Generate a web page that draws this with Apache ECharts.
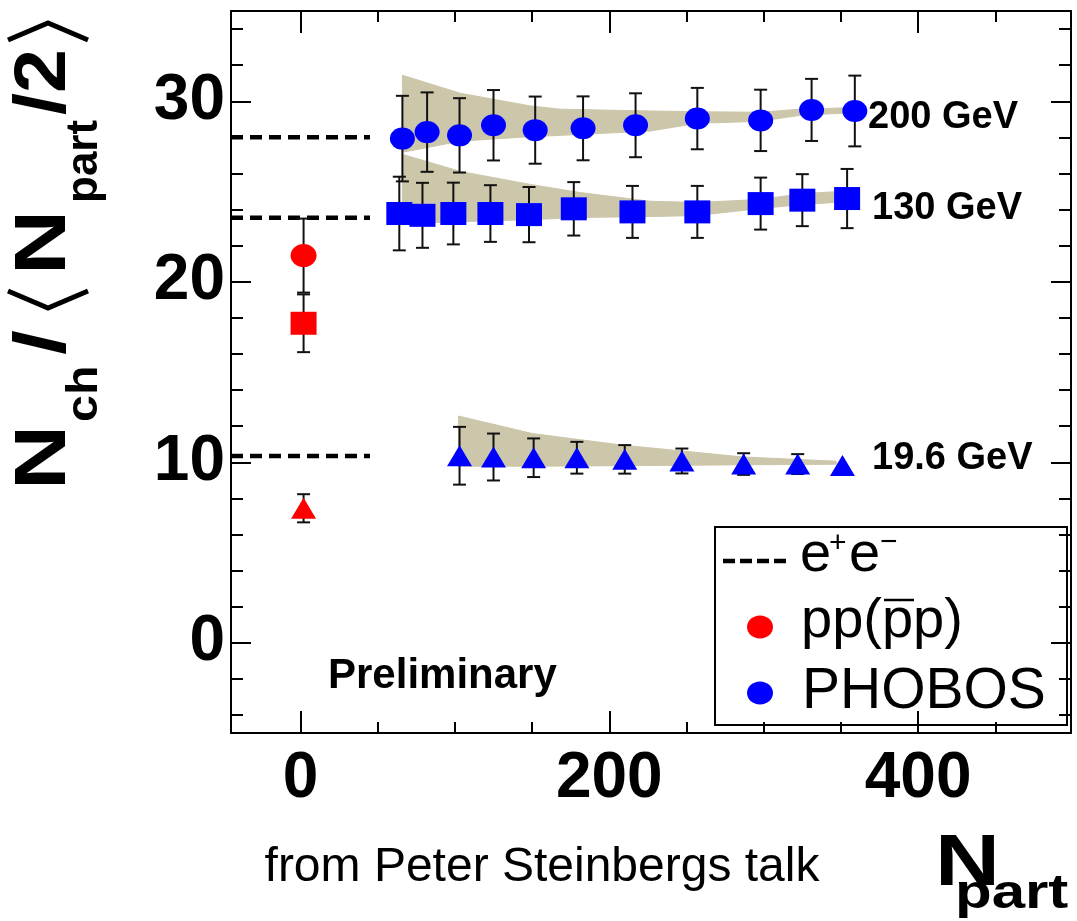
<!DOCTYPE html>
<html>
<head>
<meta charset="utf-8">
<script src="https://cdn.jsdelivr.net/npm/echarts@6/dist/echarts.min.js"></script>
<style>
  html, body { margin: 0; padding: 0; background: #fff; }
  #main { width: 1077px; height: 921px; }
</style>
</head>
<body>
<div id="main"></div>
<script>
var FONT = '"Liberation Sans", Arial, sans-serif';
var BLUE = '#0000ff';
var RED = '#ff0000';
var TAN = '#ccc6aa';

var X_MIN = -45, X_MAX = 499;
var Y_MIN = -5, Y_MAX = 35;

// tick values
var xMajor = [0, 200, 400];
var xMinor = [50, 100, 150, 250, 300, 350, 450];
var yMajor = [0, 10, 20, 30];
var yMinor = [-4, -2, 2, 4, 6, 8, 12, 14, 16, 18, 22, 24, 26, 28, 32, 34];

// PHOBOS 200 GeV (circles)
var npart200 = [66, 82, 103, 125, 152, 183, 217, 257, 298, 331, 359];
var nch200 = [27.93, 28.29, 28.11, 28.67, 28.4, 28.5, 28.67, 29.04, 28.94, 29.52, 29.46];
var err200 = [2.37, 2.2, 2.06, 1.95, 1.86, 1.77, 1.77, 1.7, 1.7, 1.72, 1.96];

// PHOBOS 130 GeV (squares)
var npart130 = [64, 79, 99, 123, 148, 177, 215, 257, 298, 325, 354];
var nch130 = [23.78, 23.68, 23.78, 23.78, 23.72, 24.04, 23.87, 23.87, 24.33, 24.52, 24.61];
var err130 = [2.04, 1.8, 1.71, 1.57, 1.53, 1.48, 1.44, 1.44, 1.44, 1.44, 1.64];

// PHOBOS 19.6 GeV (triangles)
var npart19 = [103, 125, 151, 179, 210, 247, 287, 322, 351];
var nch19 = [10.36, 10.29, 10.25, 10.25, 10.16, 10.07, 9.9, 9.9, 9.82];
var err19 = [1.6, 1.3, 1.07, 0.88, 0.79, 0.69, 0.6, 0.55, 0];

// pp (ppbar) at Npart = 2
var ppX = [2];
var ppCircle = [21.45], ppCircleErr = [2.05];
var ppSquare = [17.7], ppSquareErr = [1.6];
var ppTriangle = [7.45], ppTriangleErr = [0.78];

// systematic bands
var band200X = [66, 103.6, 148.9, 168.3, 226.5, 257, 297.7, 323.6, 359.2];
var band200Lo = [27.17, 27.79, 28.04, 28.11, 28.35, 28.78, 28.89, 29.22, 29.37];
var band200Hi = [31.44, 30.44, 29.74, 29.56, 29.46, 29.42, 29.39, 29.56, 29.65];

var band130X = [66, 103.6, 148.9, 181.2, 226.5, 257, 297.7, 325.6, 354];
var band130Lo = [23.22, 23.33, 23.44, 23.56, 23.61, 23.67, 24.06, 24.28, 24.44];
var band130Hi = [27.06, 26.11, 25.39, 24.94, 24.46, 24.39, 24.56, 24.89, 25.02];

var band19X = [102.3, 150.2, 209.1, 246.6, 286.7, 346.9];
var band19Lo = [9.78, 9.78, 9.81, 9.83, 9.86, 9.89];
var band19Hi = [12.56, 11.59, 10.94, 10.63, 10.29, 10.06];

// e+e- levels
var eeLevels = [28.0, 23.55, 10.35];
var eeX = [-45, 45];

var chart = echarts.init(document.getElementById('main'));

function xAxisDef(pos, ticks, len, line, label) {
  return {
    type: 'value', position: pos, min: X_MIN, max: X_MAX,
    axisLine: { show: line, onZero: false, lineStyle: { color: '#000', width: 2 } },
    axisTick: { show: true, inside: true, length: len, customValues: ticks, lineStyle: { color: '#000', width: 2 } },
    axisLabel: label ? {
      customValues: ticks, margin: 14, fontSize: 64, fontWeight: 'bold', fontFamily: FONT, color: '#000'
    } : { show: false },
    splitLine: { show: false }
  };
}

function yAxisDef(pos, ticks, len, line, label) {
  return {
    type: 'value', position: pos, min: Y_MIN, max: Y_MAX,
    axisLine: { show: line, onZero: false, lineStyle: { color: '#000', width: 2 } },
    axisTick: { show: true, inside: true, length: len, customValues: ticks, lineStyle: { color: '#000', width: 2 } },
    axisLabel: label ? {
      customValues: ticks, margin: 6, fontSize: 64, fontWeight: 'bold', fontFamily: FONT, color: '#000',
      padding: [0, 0, 10, 0]
    } : { show: false },
    splitLine: { show: false }
  };
}

function bandSeries(xs, lo, hi) {
  return {
    type: 'custom', z: 1, silent: true,
    encode: { x: 0, y: [1, 2] },
    data: xs.map(function (x, i) { return [x, lo[i], hi[i]]; }),
    renderItem: function (params, api) {
      if (params.dataIndex !== 0) return null;
      var pts = [];
      for (var i = 0; i < xs.length; i++) pts.push(api.coord([xs[i], hi[i]]));
      for (var j = xs.length - 1; j >= 0; j--) pts.push(api.coord([xs[j], lo[j]]));
      return { type: 'polygon', shape: { points: pts }, style: { fill: TAN, stroke: TAN, lineWidth: 1 } };
    }
  };
}

function errSeries(xs, ys, es) {
  return {
    type: 'custom', z: 3, silent: true,
    encode: { x: 0, y: 1 },
    data: xs.map(function (x, i) { return [x, ys[i], es[i]]; }),
    renderItem: function (params, api) {
      var x = api.value(0), y = api.value(1), e = api.value(2);
      if (!e) return null;
      var t = api.coord([x, y + e]), b = api.coord([x, y - e]);
      var s = { stroke: '#111', lineWidth: 2 };
      return {
        type: 'group',
        children: [
          { type: 'line', shape: { x1: t[0], y1: t[1], x2: b[0], y2: b[1] }, style: s },
          { type: 'line', shape: { x1: t[0] - 6.5, y1: t[1], x2: t[0] + 6.5, y2: t[1] }, style: s },
          { type: 'line', shape: { x1: b[0] - 6.5, y1: b[1], x2: b[0] + 6.5, y2: b[1] }, style: s }
        ]
      };
    }
  };
}

function pointSeries(xs, ys, symbol, size, color) {
  return {
    type: 'scatter', z: 4, symbol: symbol, symbolSize: size,
    itemStyle: { color: color, opacity: 1 },
    data: xs.map(function (x, i) { return [x, ys[i]]; })
  };
}

function eeSeries(level) {
  return {
    type: 'line', z: 2, symbol: 'none', silent: true,
    lineStyle: { color: '#000', width: 4.5, type: [12, 7] },
    data: [[eeX[0], level], [eeX[1], level]]
  };
}

var series = [
  bandSeries(band200X, band200Lo, band200Hi),
  bandSeries(band130X, band130Lo, band130Hi),
  bandSeries(band19X, band19Lo, band19Hi)
];
eeLevels.forEach(function (l) { series.push(eeSeries(l)); });
series.push(
  errSeries(npart200, nch200, err200),
  errSeries(npart130, nch130, err130),
  errSeries(npart19, nch19, err19),
  errSeries(ppX, ppCircle, ppCircleErr),
  errSeries(ppX, ppSquare, ppSquareErr),
  errSeries(ppX, ppTriangle, ppTriangleErr),
  pointSeries(npart200, nch200, 'circle', [25, 22], BLUE),
  pointSeries(npart130, nch130, 'rect', [26, 23], BLUE),
  pointSeries(npart19, nch19, 'triangle', [25, 21], BLUE),
  pointSeries(ppX, ppCircle, 'circle', [26, 23], RED),
  pointSeries(ppX, ppSquare, 'rect', [26, 23], RED),
  pointSeries(ppX, ppTriangle, 'triangle', [25, 21], RED)
);

function txt(x, y, text, size, weight, extra) {
  var o = {
    type: 'text', x: x, y: y, z: 100,
    style: {
      text: text, fontSize: size, fontWeight: weight, fontFamily: FONT, fill: '#000',
      align: 'left', verticalAlign: 'middle'
    }
  };
  if (extra) for (var k in extra) o[k] = extra[k];
  return o;
}

var bracket = { stroke: '#000', lineWidth: 5, fill: null };

var graphic = [
  // y-axis title, rotated
  {
    type: 'group', x: 70, y: 490, rotation: Math.PI / 2, z: 100,
    children: [
      txt(0, -25, 'N', 72, 'bold', { scaleX: 1.25 }),
      txt(68, 14.6, 'ch', 44, 'bold', { scaleX: 1.1 }),
      txt(135, -25, '/', 72, 'bold', { scaleX: 1.25 }),
      { type: 'polyline', shape: { points: [[199, -62], [182, -22], [199, 18]] }, style: bracket },
      txt(215, -25, 'N', 72, 'bold', { scaleX: 1.25 }),
      txt(287, 14.6, 'part', 44, 'bold'),
      txt(375, -25, '/2', 72, 'bold', { scaleX: 1.1 }),
      { type: 'polyline', shape: { points: [[450, -62], [467, -22], [450, 18]] }, style: bracket }
    ]
  },
  // x-axis title
  txt(935, 865, 'N', 72, 'bold', { scaleX: 1.25 }),
  txt(955, 895, 'part', 48, 'bold', { scaleX: 1.25 }),
  txt(542, 868, 'from Peter Steinbergs talk', 48, 'normal', { style: {
    text: 'from Peter Steinbergs talk', fontSize: 48, fontFamily: FONT, fill: '#000',
    align: 'center', verticalAlign: 'middle' } }),
  txt(328, 676, 'Preliminary', 42, 'bold'),
  txt(868, 118, '200 GeV', 38, 'bold'),
  txt(872, 209, '130 GeV', 38, 'bold'),
  txt(872, 459, '19.6 GeV', 38, 'bold'),
  // legend
  {
    type: 'group', z: 100,
    children: [
      { type: 'rect', shape: { x: 715, y: 527, width: 352, height: 198 },
        style: { fill: '#fff', stroke: '#000', lineWidth: 2 } },
      { type: 'line', shape: { x1: 723, y1: 561, x2: 790, y2: 561 },
        style: { stroke: '#000', lineWidth: 4.5, lineDash: [12, 5] } },
      txt(800, 556, 'e', 56, 'normal'),
      txt(829, 544, '+', 30, 'normal'),
      txt(849, 556, 'e', 56, 'normal'),
      txt(880, 543, '\u2212', 30, 'normal'),
      { type: 'ellipse', shape: { cx: 760, cy: 627, rx: 13, ry: 11.5 }, style: { fill: RED } },
      txt(801, 622, 'pp(pp)', 56, 'normal'),
      { type: 'line', shape: { x1: 884, y1: 600, x2: 914, y2: 600 }, style: { stroke: '#000', lineWidth: 2.5 } },
      { type: 'ellipse', shape: { cx: 760, cy: 693, rx: 13, ry: 11.5 }, style: { fill: BLUE } },
      txt(802, 692, 'PHOBOS', 57, 'normal')
    ]
  }
];

chart.setOption({
  animation: false,
  backgroundColor: '#fff',
  grid: { left: 231, top: 11, right: 6, bottom: 188, containLabel: false, outerBoundsMode: 'none' },
  xAxis: [
    xAxisDef('bottom', xMajor, 22, true, true),
    xAxisDef('bottom', xMinor, 11, false, false),
    xAxisDef('top', xMajor, 22, true, false),
    xAxisDef('top', xMinor, 11, false, false)
  ],
  yAxis: [
    yAxisDef('left', yMajor, 20, true, true),
    yAxisDef('left', yMinor, 12, false, false),
    yAxisDef('right', yMajor, 20, true, false),
    yAxisDef('right', yMinor, 12, false, false)
  ],
  series: series,
  graphic: graphic
});
</script>
</body>
</html>
